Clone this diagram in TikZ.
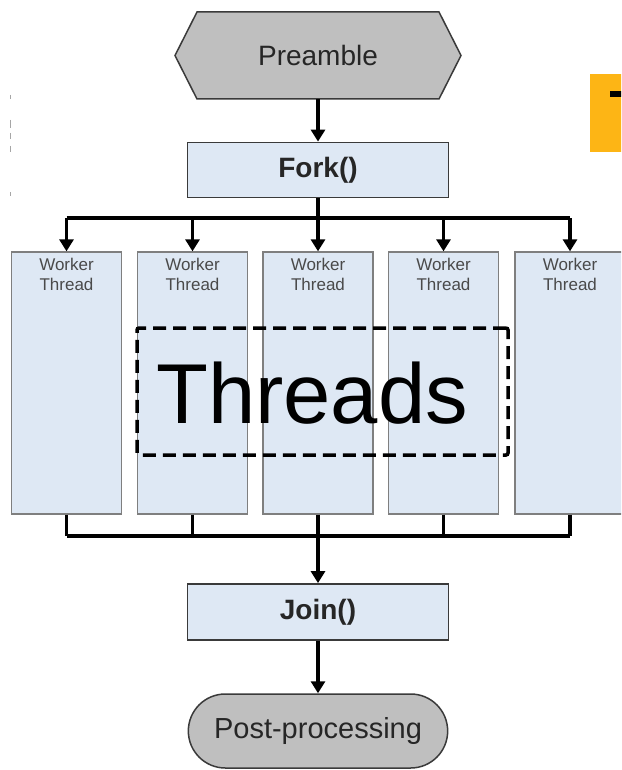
\documentclass[tikz,border=0pt]{standalone}
\usepackage{fontspec}
\setmainfont{Liberation Sans}
\usetikzlibrary{arrows.meta,shapes.misc}
\definecolor{termgray}{HTML}{BFBFBF}
\definecolor{edgegray}{HTML}{3A3A3A}
\definecolor{boxblue}{HTML}{DEE8F4}
\definecolor{coledge}{HTML}{7F7F7F}
\definecolor{labgray}{HTML}{4A4A4A}
\definecolor{tabgold}{HTML}{FDB515}
\tikzset{
  flowline/.style={line width=3.6pt, draw=black},
  flowarrow/.style={flowline, -{Triangle[length=12pt,width=14pt]}},
  procbox/.style={draw=edgegray, line width=1.8pt, fill=boxblue, minimum width=261pt, minimum height=55pt, font=\fontsize{28}{30}\selectfont\bfseries, text=black!85},
  worker/.style={draw=coledge, line width=1.3pt, fill=boxblue, minimum width=110pt, minimum height=262pt},
  workerlab/.style={font=\fontsize{17}{20}\selectfont, text=labgray, align=center, anchor=north},
  terminal/.style={draw=edgegray, line width=1.5pt, fill=termgray, font=\fontsize{29}{32}\selectfont, text=black!85},
  groupbox/.style={draw=black, line width=3.5pt, dash pattern=on 13pt off 7pt, rounded corners=2pt, minimum width=371pt, minimum height=127pt}
}
\begin{document}
\begin{tikzpicture}[x=1pt,y=-1pt]
\fill[white] (0,0) rectangle (621,770);
\useasboundingbox (0,0) rectangle (621,770);
\clip (0,0) rectangle (621,770);

% faint marks at the left edge
\foreach \ya/\yb in {95/99,120/128,133/139,146/152,192/196}
  \draw[black!35, line width=0.8pt] (10,\ya) -- (10,\yb);

% gold tab at the right edge
\fill[tabgold] (590,74) rectangle (625,152);
\fill[black] (610,91) rectangle (625,97);

% preamble (hexagon outline drawn around the text node)
\coordinate (pc) at (318,55.5);
\path (pc) +(-121,-43.5) coordinate (pnw) +(121,-43.5) coordinate (pne)
           +(-121,43.5) coordinate (psw) +(121,43.5) coordinate (pse)
           +(-143,0) coordinate (pw) +(143,0) coordinate (pe);
\draw[draw=edgegray, line width=1.5pt, fill=termgray]
  (pnw) -- (pne) -- (pe) -- (pse) -- (psw) -- (pw) -- cycle;
\node[font=\fontsize{28}{30}\selectfont, text=black!85, minimum height=87pt, minimum width=242pt, inner sep=0pt] (pre) at (pc) {Preamble};

% fork
\node[procbox] (fork) at (318,170) {Fork()};
\draw[flowarrow] (pre.south) -- (fork.north);

% worker columns
\foreach \i/\x in {1/66.5,2/192.5,3/318,4/443.5,5/570}{
  \node[worker] (w\i) at (\x,383) {};
  \node[workerlab] (wl\i) at ([yshift=-3pt]w\i.north) {Worker\\Thread};
}

% fan-out bar
\coordinate (fb) at (318,218);
\draw[flowline] (fork.south) -- (fb);
\draw[flowline] (fb -| w1.north) -- (fb -| w5.north);
\foreach \i in {1,...,5}
  \draw[flowarrow] (fb -| w\i.north) -- (w\i.north);

% fan-in bar
\coordinate (jb) at (318,536);
\foreach \i in {1,...,5}
  \draw[flowline] (w\i.south) -- (jb -| w\i.south);
\draw[flowline] (jb -| w1.south) -- (jb -| w5.south);

% join
\node[procbox, minimum height=56pt] (join) at (318,612) {Join()};
\draw[flowarrow] (jb) -- (join.north);

% post-processing
\node[terminal, rounded rectangle, minimum width=266pt, minimum height=74pt] (post) at (318,731) {Post-processing};
\draw[flowarrow] (join.south) -- (post.north);

% threads group
\node[groupbox] (tbox) at (322.5,391.5) {};
\node[font=\fontsize{85}{90}\selectfont, anchor=base, inner sep=0pt] (ttxt) at (312,423) {Threads};
\end{tikzpicture}
\end{document}
